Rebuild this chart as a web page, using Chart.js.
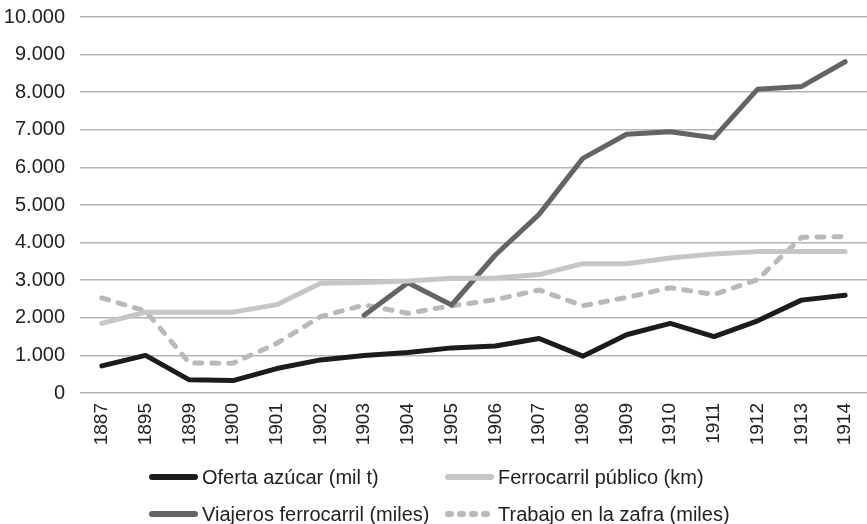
<!DOCTYPE html>
<html>
<head>
<meta charset="utf-8">
<script src="https://cdn.jsdelivr.net/npm/chart.js@4"></script>
<style>
  body { margin: 0; background: #fff; }
</style>
</head>
<body>
<canvas id="myChart" width="867" height="524"></canvas>
<script>
const years = ["1887", "1895", "1899", "1900", "1901", "1902", "1903", "1904", "1905", "1906",
  "1907", "1908", "1909", "1910", "1911", "1912", "1913", "1914"];
const ofertaAzucar = [720, 1000, 350, 330, 650, 880, 1000, 1080, 1200, 1250,
  1450, 980, 1550, 1850, 1500, 1920, 2470, 2600];
const ferrocarrilPublico = [1850, 2150, 2150, 2150, 2350, 2920, 2940, 2980, 3050, 3060,
  3150, 3440, 3440, 3590, 3700, 3760, 3760, 3760];
const viajerosFerrocarril = [null, null, null, null, null, null, 2070, 2930, 2340, 3670,
  4750, 6240, 6880, 6950, 6790, 8080, 8150, 8810];
const trabajoZafra = [2530, 2180, 800, 790, 1320, 2030, 2340, 2120, 2320, 2480,
  2740, 2320, 2540, 2800, 2620, 3020, 4140, 4160];
const seriesNames = ["Oferta azúcar (mil t)", "Ferrocarril público (km)",
  "Viajeros ferrocarril (miles)", "Trabajo en la zafra (miles)"];
const yMax = 10000;
const yStep = 1000;

const font = "'Liberation Sans', Arial, sans-serif";
const textColor = "#222";

// legend is laid out as a 2x2 grid like the original
const legendCols = [149, 445];
const legendRows = [477, 514];

function line(label, data, color, dash, legendDash) {
  return {
    label: label,
    data: data,
    borderColor: color,
    backgroundColor: color,
    borderWidth: 5,
    borderDash: dash || [],
    legendDash: legendDash || [],
    borderCapStyle: "round",
    borderJoinStyle: "round",
    pointRadius: 0,
    pointHoverRadius: 0,
    tension: 0,
    fill: false,
    spanGaps: false
  };
}

const gridLegend = {
  id: "gridLegend",
  afterDraw(chart) {
    const c = chart.ctx;
    chart.data.datasets.forEach((ds, i) => {
      const x = legendCols[i % 2];
      const y = legendRows[Math.floor(i / 2)];
      c.save();
      c.strokeStyle = ds.borderColor;
      c.lineWidth = 6;
      c.lineCap = "round";
      c.setLineDash(ds.legendDash);
      c.beginPath();
      c.moveTo(x + 3, y);
      c.lineTo(x + 46, y);
      c.stroke();
      c.setLineDash([]);
      c.fillStyle = textColor;
      c.font = "20px " + font;
      c.textBaseline = "middle";
      c.fillText(ds.label, x + 53, y + 1);
      c.restore();
    });
  }
};

let ctx = document.getElementById("myChart").getContext("2d");
let myChart = new Chart(ctx, {
  type: "line",
  data: {
    labels: years,
    datasets: [
      line(seriesNames[0], ofertaAzucar, "#1c1c1c"),
      line(seriesNames[1], ferrocarrilPublico, "#c6c6c6"),
      line(seriesNames[2], viajerosFerrocarril, "#646464"),
      line(seriesNames[3], trabajoZafra, "#b9b9bd", [7, 10], [3, 9])
    ]
  },
  options: {
    responsive: false,
    animation: false,
    layout: { padding: { left: 4, right: 0, top: 17, bottom: 78 } },
    scales: {
      x: {
        offset: true,
        grid: { display: false, drawTicks: false },
        border: { display: false },
        ticks: {
          color: textColor,
          font: { family: font, size: 19 },
          maxRotation: 90,
          minRotation: 90,
          padding: 10,
          autoSkip: false
        },
        afterFit: function(axis) {
          axis.height = 53;
          axis.paddingLeft = 0;
          axis.paddingRight = 0;
        }
      },
      y: {
        min: 0,
        max: yMax,
        grid: { color: "#b4b4b4", lineWidth: 1.5, drawTicks: false },
        border: { display: false },
        ticks: {
          stepSize: yStep,
          color: textColor,
          padding: 15,
          font: { family: font, size: 20 },
          callback: function(v) { return String(v).replace(/\B(?=(\d{3})+(?!\d))/g, "."); }
        },
        afterFit: function(axis) {
          axis.width = 76;
          axis.paddingTop = 0;
          axis.paddingBottom = 0;
        }
      }
    },
    plugins: {
      tooltip: { enabled: false },
      legend: { display: false }
    }
  },
  plugins: [gridLegend]
});
</script>
</body>
</html>
